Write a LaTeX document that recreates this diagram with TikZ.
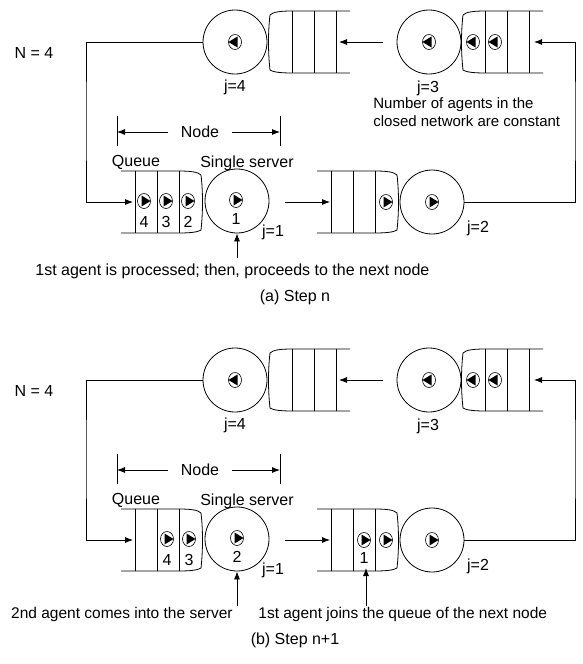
\documentclass[tikz,border=0pt]{standalone}
\usepackage{fontspec}
\setmainfont{Liberation Sans}
\usetikzlibrary{arrows.meta}
\newcommand\queueshape{%
  \draw (-80,-31) -- (-22,-31) .. controls (-10,-31) and (-3,-30) .. (0,-27)
        .. controls (2,-10) and (2,10) .. (0,28)
        .. controls (-3,30) and (-10,31) .. (-22,31) -- (-80,31);
  \foreach \d in {22,44,66} \draw (-\d,-31) -- (-\d,31);}
\begin{document}
\begin{tikzpicture}[x=1pt,y=-1pt,line width=0.8pt,
  txt/.style={font=\fontsize{16}{19}\selectfont, inner sep=0pt},
  server/.style={circle, draw, minimum size=64pt, inner sep=0pt},
  arr/.style={-{Latex[length=8pt,width=6pt]}},
  agentR/.pic={\draw[line width=0.6pt,fill=white] (0,0) ellipse[x radius=6.5pt,y radius=7.5pt];
               \fill (-2.5,-5.5) -- (6.5,0) -- (-2.5,5.5) -- cycle;},
  agentL/.pic={\draw[line width=0.6pt,fill=white] (0,0) ellipse[x radius=6.5pt,y radius=7.5pt];
               \fill (2.5,-5.5) -- (-6.5,0) -- (2.5,5.5) -- cycle;}
]
\useasboundingbox (0,0) rectangle (582,664);

% ===================== panel (a) =====================
\node[server] (s4a) at (235,42) {};
\node[server] (s3a) at (429,42) {};
\node[server] (s1a) at (237,201) {};
\node[server] (s2a) at (432,202) {};
\begin{scope}[shift={(270,42)},xscale=-1] \queueshape \end{scope}
\begin{scope}[shift={(463,42)},xscale=-1] \queueshape \end{scope}
\begin{scope}[shift={(201,202)}] \queueshape \end{scope}
\begin{scope}[shift={(397,202)}] \queueshape \end{scope}

\pic at (235,42) {agentL};
\pic at (429,42) {agentL};
\pic at (473,42) {agentL};
\pic at (495,42) {agentL};
\pic at (144,201) {agentR};
\pic at (166,201) {agentR};
\pic at (188,201) {agentR};
\pic at (236,200) {agentR};
\pic at (386,202) {agentR};
\pic at (432,202) {agentR};

\node[txt] (a4) at (144,222) {4};
\node[txt] (a3) at (166,222) {3};
\node[txt] (a2) at (188,222) {2};
\node[txt] (a1) at (236,219) {1};

\node[txt] (Na) at (34,53) {N = 4};
\node[txt] (j4a) at (235,87) {j=4};
\node[txt] (j3a) at (428,88) {j=3};
\node[txt] (j1a) at (273,232) {j=1};
\node[txt] (j2a) at (478,228) {j=2};
\node[txt] (qla) at (136,162) {Queue};
\node[txt] (ssa) at (247,163) {Single server};
\node[txt,font=\fontsize{15}{18.5}\selectfont,align=left,anchor=north west] (numa) at (373,97) {Number of agents in the\\closed network are constant};
\node[txt,anchor=west] (pra) at (35,271) {1st agent is processed; then, proceeds to the next node};
\node[txt] (capa) at (295,297) {(a) Step n};

% Node bracket
\node[txt] (nodea) at (200,132) {Node};
\coordinate (brLa) at (117,132);
\coordinate (brRa) at (280,132);
\draw (117,116) -- (117,146);
\draw (280,116) -- (280,146);
\draw[arr] ([xshift=-12pt]nodea.west) -- (brLa);
\draw[arr] ([xshift=12pt]nodea.east) -- (brRa);

% connectors
\coordinate (loopLa) at (86,120);
\coordinate (loopRa) at (575,120);
\coordinate (q1ain) at (133,202);
\coordinate (q2ain) at (330,202);
\coordinate (q3ain) at (534,42);
\coordinate (q4ain) at (339,42);
\coordinate (a12s) at (285,202);
\coordinate (a34s) at (383,42);
\coordinate (upa) at (237,258);
\draw[arr] (s4a.west) -| (loopLa) |- (q1ain);
\draw[arr] (a12s) -- (q2ain);
\draw[arr] (s2a.east) -| (loopRa) |- (q3ain);
\draw[arr] (a34s) -- (q4ain);
\draw[arr] (upa) -- (s1a.south);

% ===================== panel (b) =====================
\node[server] (s4b) at (235,380) {};
\node[server] (s3b) at (429,380) {};
\node[server] (s1b) at (237,539) {};
\node[server] (s2b) at (432,540) {};
\begin{scope}[shift={(270,380)},xscale=-1] \queueshape \end{scope}
\begin{scope}[shift={(463,380)},xscale=-1] \queueshape \end{scope}
\begin{scope}[shift={(201,540)}] \queueshape \end{scope}
\begin{scope}[shift={(397,540)}] \queueshape \end{scope}

\pic at (235,380) {agentL};
\pic at (429,380) {agentL};
\pic at (473,380) {agentL};
\pic at (495,380) {agentL};
\pic at (167,539) {agentR};
\pic at (189,539) {agentR};
\pic at (237,538) {agentR};
\pic at (364,540) {agentR};
\pic at (386,540) {agentR};
\pic at (432,540) {agentR};

\node[txt] (b4) at (167,560) {4};
\node[txt] (b3) at (189,560) {3};
\node[txt] (b2) at (237,557) {2};
\node[txt] (b1) at (364,558) {1};

\node[txt] (Nb) at (34,391) {N = 4};
\node[txt] (j4b) at (235,425) {j=4};
\node[txt] (j3b) at (428,426) {j=3};
\node[txt] (j1b) at (273,570) {j=1};
\node[txt] (j2b) at (478,566) {j=2};
\node[txt] (qlb) at (136,500) {Queue};
\node[txt] (ssb) at (247,501) {Single server};
\node[txt,font=\fontsize{15.5}{18}\selectfont,anchor=east] (prb1) at (233,614) {2nd agent comes into the server};
\node[txt,font=\fontsize{15.5}{18}\selectfont,anchor=west] (prb2) at (258,614) {1st agent joins the queue of the next node};
\node[txt] (capb) at (295,640) {(b) Step n+1};

\node[txt] (nodeb) at (200,470) {Node};
\coordinate (brLb) at (117,470);
\coordinate (brRb) at (280,470);
\draw (117,454) -- (117,484);
\draw (280,454) -- (280,484);
\draw[arr] ([xshift=-12pt]nodeb.west) -- (brLb);
\draw[arr] ([xshift=12pt]nodeb.east) -- (brRb);

\coordinate (loopLb) at (86,458);
\coordinate (loopRb) at (575,458);
\coordinate (q1bin) at (133,540);
\coordinate (q2bin) at (330,540);
\coordinate (q3bin) at (534,380);
\coordinate (q4bin) at (339,380);
\coordinate (b12s) at (285,540);
\coordinate (b34s) at (383,380);
\coordinate (upb1) at (237,606);
\coordinate (upb2) at (366,606);
\coordinate (q2bagent) at (366,568);
\draw[arr] (s4b.west) -| (loopLb) |- (q1bin);
\draw[arr] (b12s) -- (q2bin);
\draw[arr] (s2b.east) -| (loopRb) |- (q3bin);
\draw[arr] (b34s) -- (q4bin);
\draw[arr] (upb1) -- (s1b.south);
\draw[arr] (upb2) -- (q2bagent);
\end{tikzpicture}
\end{document}
